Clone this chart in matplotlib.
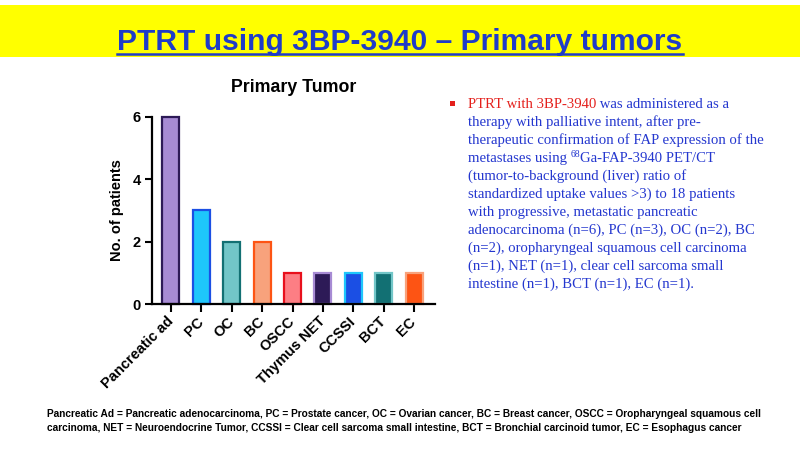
import matplotlib
matplotlib.use("Agg")
import matplotlib.pyplot as plt
from matplotlib import font_manager
from matplotlib.lines import Line2D
from matplotlib.patches import Rectangle

# Chart data
categories = ["Pancreatic ad", "PC", "OC", "BC", "OSCC", "Thymus NET", "CCSSI", "BCT", "EC"]
patients = [6, 3, 2, 2, 1, 1, 1, 1, 1]
fill_colors = ["#a78bd4", "#1ec6fb", "#72c6c8", "#f8a27c", "#fd7e84",
               "#2d1a57", "#1b4fe4", "#127073", "#fd5414"]
edge_colors = ["#2d1a57", "#1b4fe4", "#127073", "#fd5414", "#e8101c",
               "#a78bd4", "#1ec6fb", "#72c6c8", "#f8a27c"]
yticks = [0, 2, 4, 6]

header = "PTRT using 3BP-3940 \u2013 Primary tumors"
chart_title = "Primary Tumor"
ylabel = "No. of patients"

BLUE = "#2437cf"
RED = "#e4201c"
body_lines = [
    [("PTRT with 3BP-3940", RED, 0), (" was administered as a", BLUE, 0)],
    [("therapy with palliative intent, after pre-", BLUE, 0)],
    [("therapeutic confirmation of FAP expression of the", BLUE, 0)],
    [("metastases using ", BLUE, 0), ("68", BLUE, 1), ("Ga-FAP-3940 PET/CT", BLUE, 0)],
    [("(tumor-to-background (liver) ratio of", BLUE, 0)],
    [("standardized uptake values >3) to 18 patients", BLUE, 0)],
    [("with progressive, metastatic pancreatic", BLUE, 0)],
    [("adenocarcinoma (n=6), PC (n=3), OC (n=2), BC", BLUE, 0)],
    [("(n=2), oropharyngeal squamous cell carcinoma", BLUE, 0)],
    [("(n=1), NET (n=1), clear cell sarcoma small", BLUE, 0)],
    [("intestine (n=1), BCT (n=1), EC (n=1).", BLUE, 0)],
]

footer_lines = [
    "Pancreatic Ad = Pancreatic adenocarcinoma, PC = Prostate cancer, OC = Ovarian cancer, "
    "BC = Breast cancer, OSCC = Oropharyngeal squamous cell",
    "carcinoma, NET = Neuroendocrine Tumor, CCSSI = Clear cell sarcoma small intestine, "
    "BCT = Bronchial carcinoid tumor, EC = Esophagus cancer",
]


def has_font(name):
    try:
        font_manager.findfont(font_manager.FontProperties(family=name), fallback_to_default=False)
        return True
    except Exception:
        return False


NARROW = "Liberation Sans Narrow" if has_font("Liberation Sans Narrow") else None
plt.rcParams["font.family"] = ["Liberation Sans", "DejaVu Sans"]

W, H = 800, 450
fig = plt.figure(figsize=(8, 4.5), dpi=100)
fig.patch.set_facecolor("white")


def fx(x):
    return x / W


def fy(y):
    return 1 - y / H


# Yellow header band
fig.patches.append(Rectangle((0, fy(57)), 1, (57 - 5) / H, transform=fig.transFigure,
                             facecolor="#ffff00", edgecolor="none", zorder=0))
if NARROW:
    head = fig.text(0.5, fy(50), header, ha="center", va="baseline", family=NARROW,
                    fontsize=26.5, fontweight="bold", color="#1f3cc8")
else:
    head = fig.text(0.5, fy(50), header, ha="center", va="baseline",
                    fontsize=21.6, fontweight="bold", color="#1f3cc8")

# Bar chart
ax = fig.add_axes([fx(152), fy(304), fx(435) - fx(152), fy(116.7) - fy(304)])
x = list(range(len(categories)))
bars = ax.bar(x, patients, width=0.56, color=fill_colors, edgecolor=edge_colors,
              linewidth=1.6, zorder=2)
for b in bars:
    b.set_clip_on(False)
ax.set_xlim(-0.625, 8.69)
ax.set_ylim(0, 6)
ax.set_yticks(yticks)
ax.set_xticks(x)
ax.set_xticklabels(categories, rotation=45, ha="right", va="center",
                   rotation_mode="anchor", fontsize=10.5, fontweight="bold")
for lab in ax.get_yticklabels():
    lab.set_fontweight("bold")
    lab.set_fontsize(10.5)
ax.tick_params(axis="x", length=6, width=1.5, pad=5)
ax.tick_params(axis="y", length=5, width=1.5, pad=3)
for s in ["top", "right"]:
    ax.spines[s].set_visible(False)
for s in ["left", "bottom"]:
    ax.spines[s].set_linewidth(1.6)
ax.set_ylabel(ylabel, fontsize=10.5, fontweight="bold", labelpad=6.5)
ax.set_title(chart_title, fontsize=12.8, fontweight="bold", pad=18)

# Bullet text on the right
fig.patches.append(Rectangle((fx(450), fy(106)), 5 / W, 5 / H, transform=fig.transFigure,
                             facecolor=RED, edgecolor="none"))

fig.canvas.draw()
renderer = fig.canvas.get_renderer()
y0 = 108
for i, line in enumerate(body_lines):
    xpos = 468
    ybase = y0 + 18 * i
    for txt, col, sup in line:
        if sup:
            t = fig.text(fx(xpos), fy(ybase - 5), txt, color=col, fontsize=7,
                         family="Liberation Serif", va="baseline")
        else:
            t = fig.text(fx(xpos), fy(ybase), txt, color=col, fontsize=10.65,
                         family="Liberation Serif", va="baseline")
        xpos += t.get_window_extent(renderer).width

# Footer
for i, line in enumerate(footer_lines):
    if NARROW:
        fig.text(fx(47), fy(417 + 14 * i), line, family=NARROW, fontsize=8.3,
                 fontweight="bold", va="baseline", color="black")
    else:
        fig.text(fx(47), fy(417 + 14 * i), line, fontsize=7.25,
                 fontweight="bold", va="baseline", color="black")

# Underline the header
bb = head.get_window_extent(renderer)
fig.lines.append(Line2D([bb.x0 / W, bb.x1 / W], [fy(54), fy(54)], transform=fig.transFigure,
                        color="#1f3cc8", linewidth=1.8))

fig.savefig("out.png", dpi=100, facecolor="white")
